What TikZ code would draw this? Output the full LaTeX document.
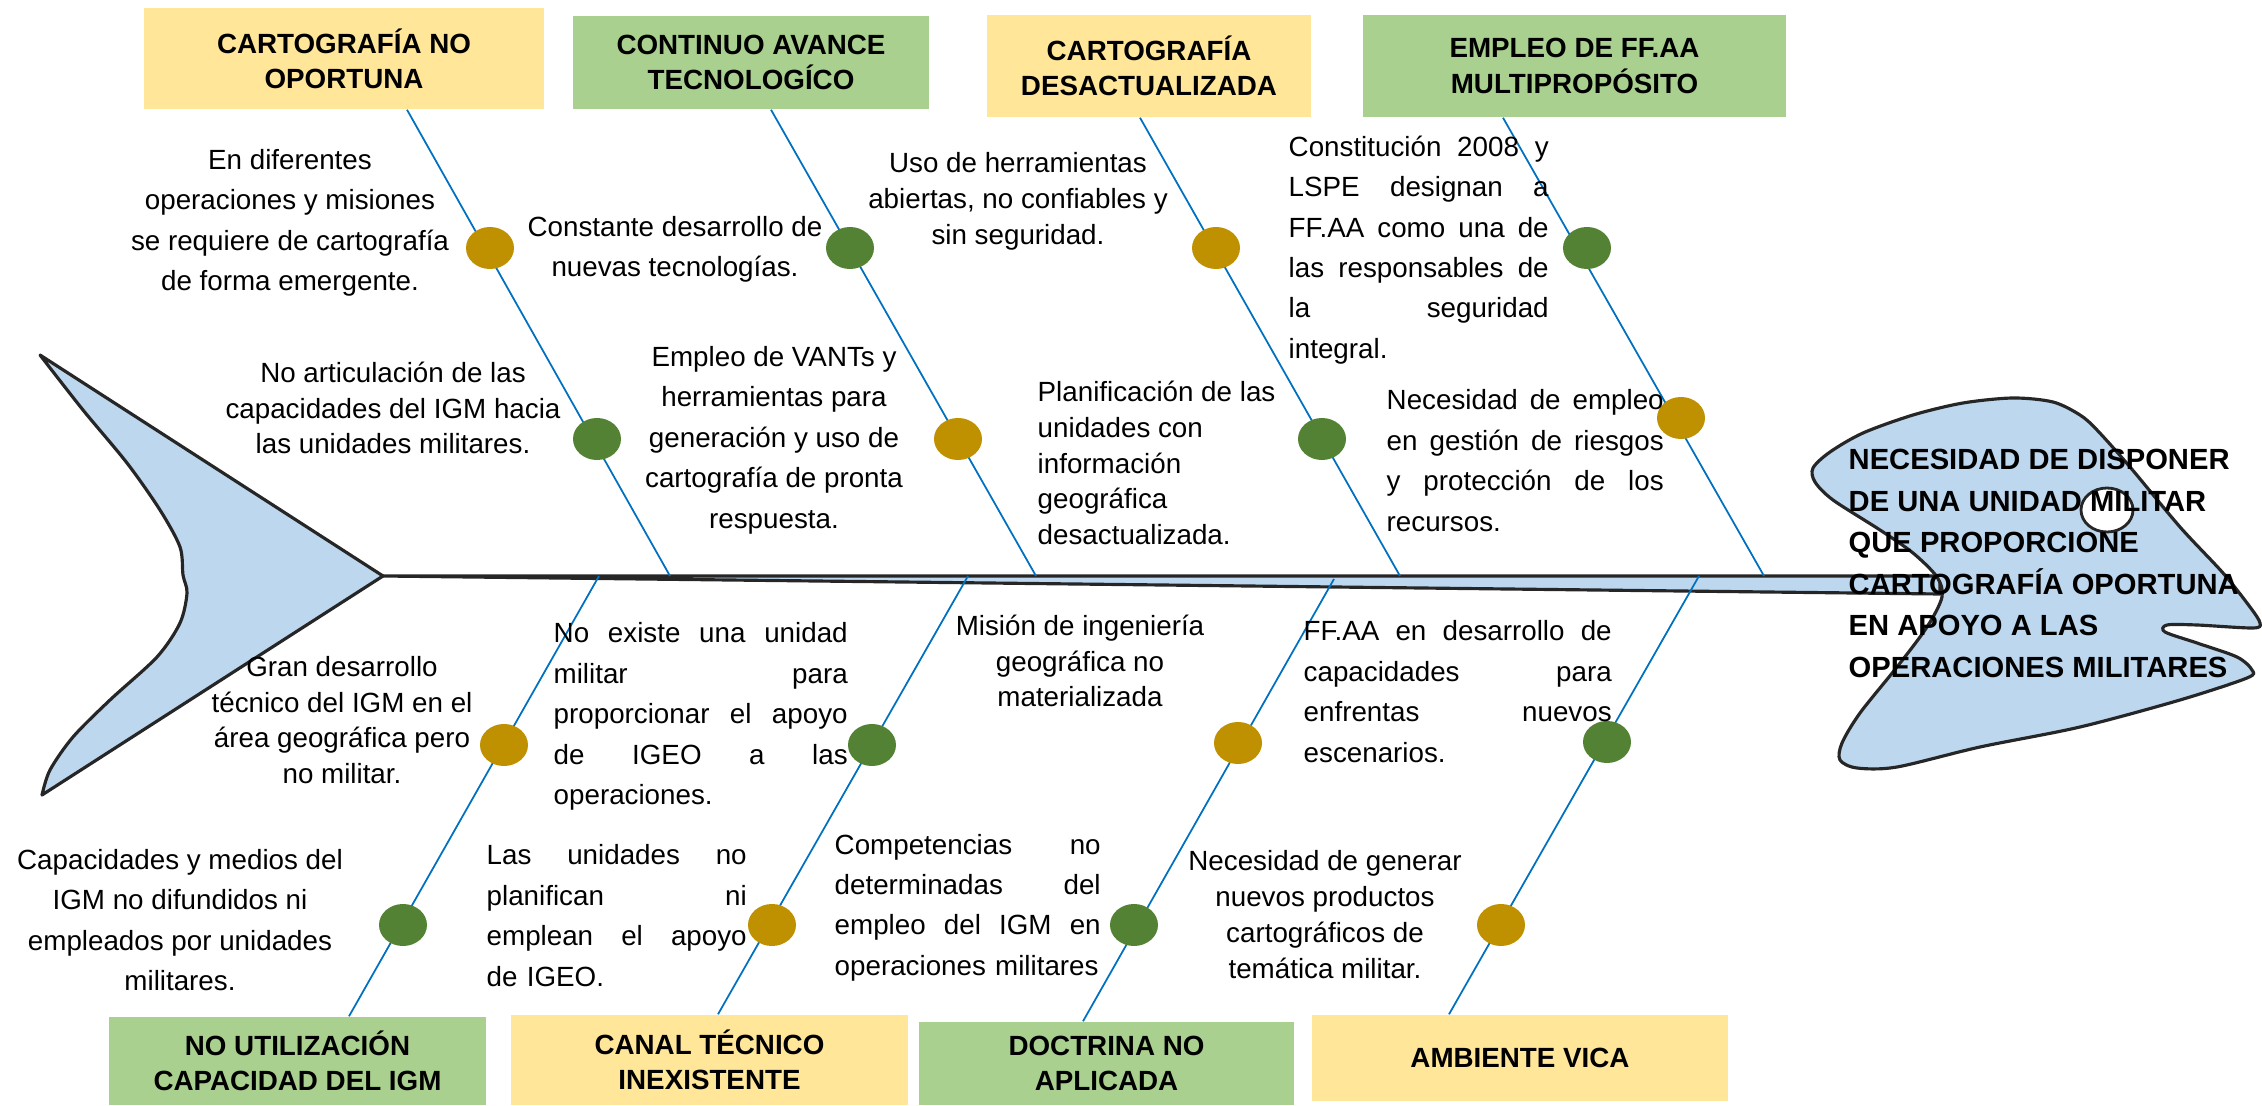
\documentclass[tikz,border=0pt]{standalone}
\usepackage{fontspec}
\setmainfont{Liberation Sans}
\usetikzlibrary{shapes.geometric}
\definecolor{cajaamarilla}{HTML}{FFE699}
\definecolor{cajaverde}{HTML}{A9D08E}
\definecolor{puntooro}{HTML}{BF9000}
\definecolor{puntoverde}{HTML}{548235}
\definecolor{espina}{HTML}{0070C0}
\definecolor{pez}{HTML}{BDD7EE}
\newlength{\anchojusto}
\newcommand{\jline}[1]{{\spaceskip=0pt\xspaceskip=0pt\makebox[\anchojusto][s]{#1}}}

\begin{document}
\begin{tikzpicture}[
        cuerpo/.style={fill=pez, draw=black!85, line width=0.9pt, line join=round},
        caja/.style={inner sep=0pt, align=center, font=\bfseries\fontsize{7.9}{10}\selectfont},
        cajaA/.style={caja, fill=cajaamarilla},
        cajaV/.style={caja, fill=cajaverde},
        rib/.style={draw=espina, line width=0.5pt},
        punto/.style={ellipse, minimum width=0.48cm, minimum height=0.42cm, inner sep=0pt},
        oro/.style={punto, fill=puntooro},
        verde/.style={punto, fill=puntoverde},
        texto/.style={inner sep=0pt, align=center, font=\fontsize{7.9}{11.5}\selectfont},
        textocorto/.style={inner sep=0pt, align=center, font=\fontsize{7.9}{10.2}\selectfont},
        justo/.style={texto, anchor=west, align=left, text width=#1,
            execute at begin node={\setlength{\anchojusto}{#1}}}
    ]
            \useasboundingbox (0,0) rectangle (22.62,11.05);

            % cola y espina
            \draw[cuerpo] (3.83,5.29) -- (0.40,7.50) -- plot[smooth] coordinates {(0.40,7.50) (0.83,6.95) (1.27,6.42) (1.60,5.95) (1.80,5.58) (1.83,5.30) (1.87,5.12) (1.80,4.82) (1.57,4.48) (1.10,4.05) (0.73,3.68) (0.50,3.35) (0.42,3.10)} -- cycle;
            \draw[cuerpo] (3.83,5.29) -- (19.40,5.29) -- (19.40,5.11) -- cycle;

            % cabeza
            \draw[cuerpo] plot[smooth cycle] coordinates {(18.13,6.37) (18.30,6.53) (18.63,6.72) (19.13,6.90) (19.63,7.02) (20.13,7.07) (20.53,7.03) (20.80,6.90) (20.97,6.75) (21.30,6.38) (21.80,5.78) (22.23,5.32) (22.50,4.98) (22.60,4.82) (22.53,4.77) (21.97,4.80) (21.67,4.80) (21.65,4.73) (21.97,4.62) (22.37,4.48) (22.52,4.35) (22.47,4.27) (21.80,4.05) (20.80,3.78) (19.80,3.58) (18.97,3.38) (18.57,3.37) (18.40,3.45) (18.42,3.62) (18.60,3.92) (18.97,4.38) (19.27,4.78) (19.42,5.08) (19.37,5.28) (19.13,5.52) (18.80,5.75) (18.33,6.05) (18.15,6.23)};
            \draw[fill=white, draw=black!85, line width=0.8pt] (21.07,5.95) ellipse (0.26 and 0.22);
            \node[anchor=west, inner sep=0pt, align=left, font=\bfseries\fontsize{8.3}{11.8}\selectfont] (efecto) at (18.48,5.415) {NECESIDAD DE DISPONER\\DE UNA UNIDAD  MILITAR\\QUE PROPORCIONE\\CARTOGRAFÍA OPORTUNA\\EN APOYO A LAS\\OPERACIONES MILITARES};

            % causas
            \node[cajaA, minimum width=4.00cm, minimum height=1.01cm] (c1) at (3.44,10.465) {CARTOGRAFÍA NO\\OPORTUNA};
            \node[cajaV, minimum width=3.56cm, minimum height=0.93cm] (c2) at (7.51,10.425) {CONTINUO AVANCE\\TECNOLOGÍCO};
            \node[cajaA, minimum width=3.24cm, minimum height=1.02cm] (c3) at (11.49,10.39) {CARTOGRAFÍA\\DESACTUALIZADA};
            \node[cajaV, minimum width=4.23cm, minimum height=1.02cm] (c4) at (15.745,10.39) {EMPLEO DE FF.AA\\MULTIPROPÓSITO};
            \node[cajaV, minimum width=3.77cm, minimum height=0.88cm] (c5) at (2.975,0.44) {NO UTILIZACIÓN\\CAPACIDAD DEL IGM};
            \node[cajaA, minimum width=3.97cm, minimum height=0.90cm] (c6) at (7.095,0.45) {CANAL TÉCNICO\\INEXISTENTE};
            \node[cajaV, minimum width=3.75cm, minimum height=0.83cm] (c7) at (11.065,0.415) {DOCTRINA NO\\APLICADA};
            \node[cajaA, minimum width=4.16cm, minimum height=0.86cm] (c8) at (15.20,0.47) {AMBIENTE VICA};

            \coordinate (s1) at (6.70,5.29);
            \coordinate (s2) at (10.36,5.29);
            \coordinate (s3) at (14.00,5.29);
            \coordinate (s4) at (17.64,5.29);
            \coordinate (s5) at (5.99,5.29);
            \coordinate (s6) at (9.68,5.29);
            \coordinate (s7) at (13.34,5.26);
            \coordinate (s8) at (16.99,5.29);

            \draw[rib] ([xshift=6.3mm]c1.south) -- (s1);
            \draw[rib] ([xshift=2.0mm]c2.south) -- (s2);
            \draw[rib] ([xshift=-0.9mm]c3.south) -- (s3);
            \draw[rib] ([xshift=-7.15mm]c4.south) -- (s4);
            \draw[rib] ([xshift=5.15mm]c5.north) -- (s5);
            \draw[rib] ([xshift=0.85mm]c6.north) -- (s6);
            \draw[rib] ([xshift=-2.35mm]c7.north) -- (s7);
            \draw[rib] ([xshift=-7.1mm]c8.north) -- (s8);

            % subcausas
            \node[oro] (d1) at (4.90,8.57) {};
            \node[verde] (d2) at (5.97,6.66) {};
            \node[verde] (d3) at (8.50,8.57) {};
            \node[oro] (d4) at (9.58,6.66) {};
            \node[oro] (d5) at (12.16,8.57) {};
            \node[verde] (d6) at (13.22,6.66) {};
            \node[verde] (d7) at (15.87,8.57) {};
            \node[oro] (d8) at (16.81,6.87) {};
            \node[oro] (d9) at (5.04,3.60) {};
            \node[verde] (d10) at (4.03,1.80) {};
            \node[verde] (d11) at (8.72,3.60) {};
            \node[oro] (d12) at (7.72,1.80) {};
            \node[oro] (d13) at (12.38,3.62) {};
            \node[verde] (d14) at (11.34,1.80) {};
            \node[verde] (d15) at (16.07,3.63) {};
            \node[oro] (d16) at (15.01,1.80) {};

            \node[texto] (t1) at (2.90,8.82) {En diferentes\\operaciones y misiones\\se requiere de cartografía\\de forma emergente.};
            \node[texto] (t2) at (6.75,8.555) {Constante desarrollo de\\nuevas tecnologías.};
            \node[textocorto] (t3) at (10.18,9.04) {Uso de herramientas\\abiertas, no confiables y\\sin seguridad.};
            \node[justo=2.60cm] (t4) at (12.88,8.55) {\jline{Constitución 2008 y}\\\jline{LSPE designan a}\\\jline{FF.AA como una de}\\\jline{las responsables de}\\\jline{la seguridad}\\integral.};
            \node[textocorto] (t5) at (3.93,6.97) {No articulación de las\\capacidades del IGM hacia\\las unidades militares.};
            \node[texto] (t6) at (7.74,6.65) {Empleo de VANTs y\\herramientas para\\generación y uso de\\cartografía de pronta\\respuesta.};
            \node[textocorto, anchor=west, align=left] (t7) at (10.37,6.42) {Planificación de las\\unidades con\\información\\geográfica\\desactualizada.};
            \node[justo=2.77cm] (t8) at (13.86,6.445) {\jline{Necesidad de empleo}\\\jline{en gestión de riesgos}\\\jline{y protección de los}\\recursos.};
            \node[textocorto] (t9) at (3.42,3.85) {Gran desarrollo\\técnico del IGM en el\\área geográfica pero\\no militar.};
            \node[justo=2.94cm] (t10) at (5.53,3.885) {\jline{No existe una unidad}\\\jline{militar para}\\\jline{proporcionar el apoyo}\\\jline{de IGEO a las}\\operaciones.};
            \node[textocorto] (t11) at (10.80,4.44) {Misión de ingeniería\\geográfica no\\materializada};
            \node[justo=3.08cm] (t12) at (13.03,4.135) {\jline{FF.AA en desarrollo de}\\\jline{capacidades para}\\\jline{enfrentas nuevos}\\escenarios.};
            \node[texto] (t13) at (1.80,1.85) {Capacidades y medios del\\IGM no difundidos ni\\empleados por unidades\\militares.};
            \node[justo=2.60cm] (t14) at (4.86,1.895) {\jline{Las unidades no}\\\jline{planifican ni}\\\jline{emplean el apoyo}\\de IGEO.};
            \node[justo=2.66cm] (t15) at (8.34,1.975) {\jline{Competencias no}\\\jline{determinadas del}\\\jline{empleo del IGM en}\\operaciones militares};
            \node[textocorto] (t16) at (13.25,1.905) {Necesidad de generar\\nuevos productos\\cartográficos de\\temática militar.};
        \end{tikzpicture}
\end{document}
